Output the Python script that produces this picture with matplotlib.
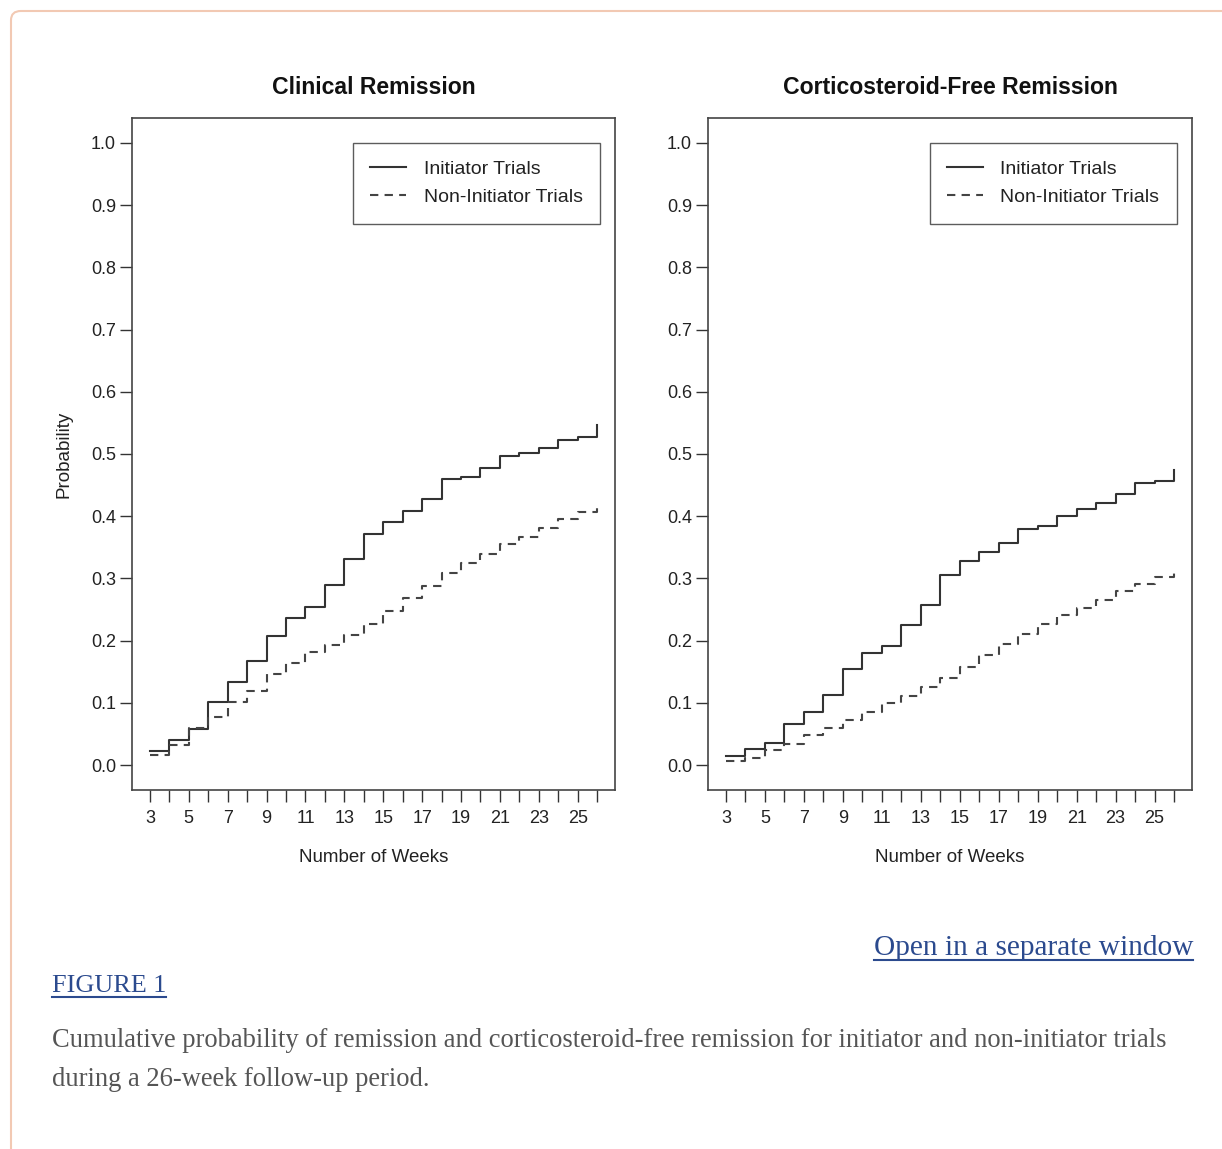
import matplotlib
matplotlib.use('Agg')
import matplotlib.pyplot as plt
from matplotlib.patches import FancyBboxPatch
from matplotlib.lines import Line2D

weeks = list(range(3, 27))

# clinical remission (left)
clin_init = [0.023, 0.040, 0.058, 0.102, 0.134, 0.167, 0.208, 0.236, 0.254, 0.289,
             0.331, 0.371, 0.390, 0.409, 0.428, 0.460, 0.463, 0.477, 0.496, 0.502,
             0.510, 0.523, 0.528, 0.546]
clin_non = [0.016, 0.032, 0.060, 0.078, 0.101, 0.119, 0.147, 0.164, 0.182, 0.193,
            0.209, 0.227, 0.247, 0.268, 0.288, 0.308, 0.325, 0.339, 0.355, 0.367,
            0.381, 0.395, 0.407, 0.413]

# corticosteroid-free remission (right)
csf_init = [0.014, 0.026, 0.036, 0.066, 0.085, 0.113, 0.154, 0.180, 0.191, 0.225,
            0.258, 0.305, 0.328, 0.342, 0.357, 0.380, 0.384, 0.401, 0.412, 0.421,
            0.436, 0.453, 0.456, 0.474]
csf_non = [0.007, 0.011, 0.024, 0.034, 0.049, 0.059, 0.073, 0.086, 0.100, 0.111,
           0.126, 0.140, 0.158, 0.177, 0.194, 0.210, 0.226, 0.242, 0.253, 0.266,
           0.280, 0.291, 0.302, 0.311]

titles = ['Clinical Remission', 'Corticosteroid-Free Remission']
legend_labels = ['Initiator Trials', 'Non-Initiator Trials']
yticks = [0.0, 0.1, 0.2, 0.3, 0.4, 0.5, 0.6, 0.7, 0.8, 0.9, 1.0]
xlabels = list(range(3, 27, 2))

plt.rcParams['font.family'] = ['Liberation Sans', 'DejaVu Sans']

W, H = 1222, 1149
fig = plt.figure(figsize=(W / 100, H / 100), dpi=100)

# card border (only top/left visible)
card = FancyBboxPatch((11 / W, -0.1), 1.2, (1149 - 11) / H + 0.1,
                      boxstyle='round,pad=0,rounding_size=0.008',
                      transform=fig.transFigure, facecolor='none',
                      edgecolor='#f2c9b3', linewidth=1.5, zorder=0)
fig.patches.append(card)

boxes = [(132, 615), (708, 1192)]
top, bottom = 118, 790
data = [(clin_init, clin_non), (csf_init, csf_non)]

for i, (x0, x1) in enumerate(boxes):
    ax = fig.add_axes([x0 / W, 1 - bottom / H, (x1 - x0) / W, (bottom - top) / H])
    init, non = data[i]
    ax.step(weeks, init, where='post', color='#333333', lw=1.5, label=legend_labels[0])
    ax.step(weeks, non, where='post', color='#444444', lw=1.5, dashes=(4, 3),
            label=legend_labels[1])
    ax.set_xlim(2.08, 26.92)
    ax.set_ylim(-0.04, 1.04)
    ax.set_xticks(weeks)
    ax.set_xticklabels([str(w) if w in xlabels else '' for w in weeks])
    ax.set_yticks(yticks)
    ax.set_yticklabels(['%.1f' % v for v in yticks])
    ax.tick_params(axis='x', direction='out', length=8.5, width=1, color='#333333',
                   labelsize=13, pad=6, labelcolor='#222222')
    ax.tick_params(axis='y', direction='out', length=8.5, width=1, color='#333333',
                   labelsize=13, pad=3, labelcolor='#222222')
    for s in ax.spines.values():
        s.set_color('#444444')
        s.set_linewidth(1.2)
    ax.set_title(titles[i], fontsize=16.6, fontweight='bold', pad=17, color='#111111')
    ax.set_xlabel('Number of Weeks', fontsize=13.5, labelpad=16, color='#222222')
    if i == 0:
        ax.set_ylabel('Probability', fontsize=13.5, labelpad=13, color='#222222')
    leg = ax.legend(loc='upper right', bbox_to_anchor=(0.969, 0.963), fontsize=14,
                    frameon=True, fancybox=False, handlelength=1.85, handletextpad=0.88,
                    borderpad=0.9, labelspacing=0.55, borderaxespad=0)
    leg.get_frame().set_edgecolor('#333333')
    leg.get_frame().set_linewidth(1.0)
    for t in leg.get_texts():
        t.set_color('#222222')

link = '#2b4a8e'
t1 = fig.text(1193 / W, 1 - 955 / H, 'Open in a separate window', ha='right',
              va='baseline', fontsize=21.2, family='Liberation Serif', color=link)
t2 = fig.text(52 / W, 1 - 992 / H, 'FIGURE 1', ha='left', va='baseline',
              fontsize=18.8, family='Liberation Serif', color=link)
fig.text(52 / W, 1 - 1047 / H,
         'Cumulative probability of remission and corticosteroid-free remission '
         'for initiator and non-initiator trials',
         ha='left', va='baseline', fontsize=19.1, family='Liberation Serif',
         color='#555555')
fig.text(52 / W, 1 - 1086 / H, 'during a 26-week follow-up period.', ha='left',
         va='baseline', fontsize=19.1, family='Liberation Serif', color='#555555')

# underline the links
fig.canvas.draw()
r = fig.canvas.get_renderer()
for t, yb in [(t1, 960), (t2, 997)]:
    bb = t.get_window_extent(r)
    fig.lines.append(Line2D([bb.x0 / W, bb.x1 / W], [1 - yb / H, 1 - yb / H],
                            transform=fig.transFigure, color=link, lw=1.5))

fig.savefig('out.png', dpi=100)
